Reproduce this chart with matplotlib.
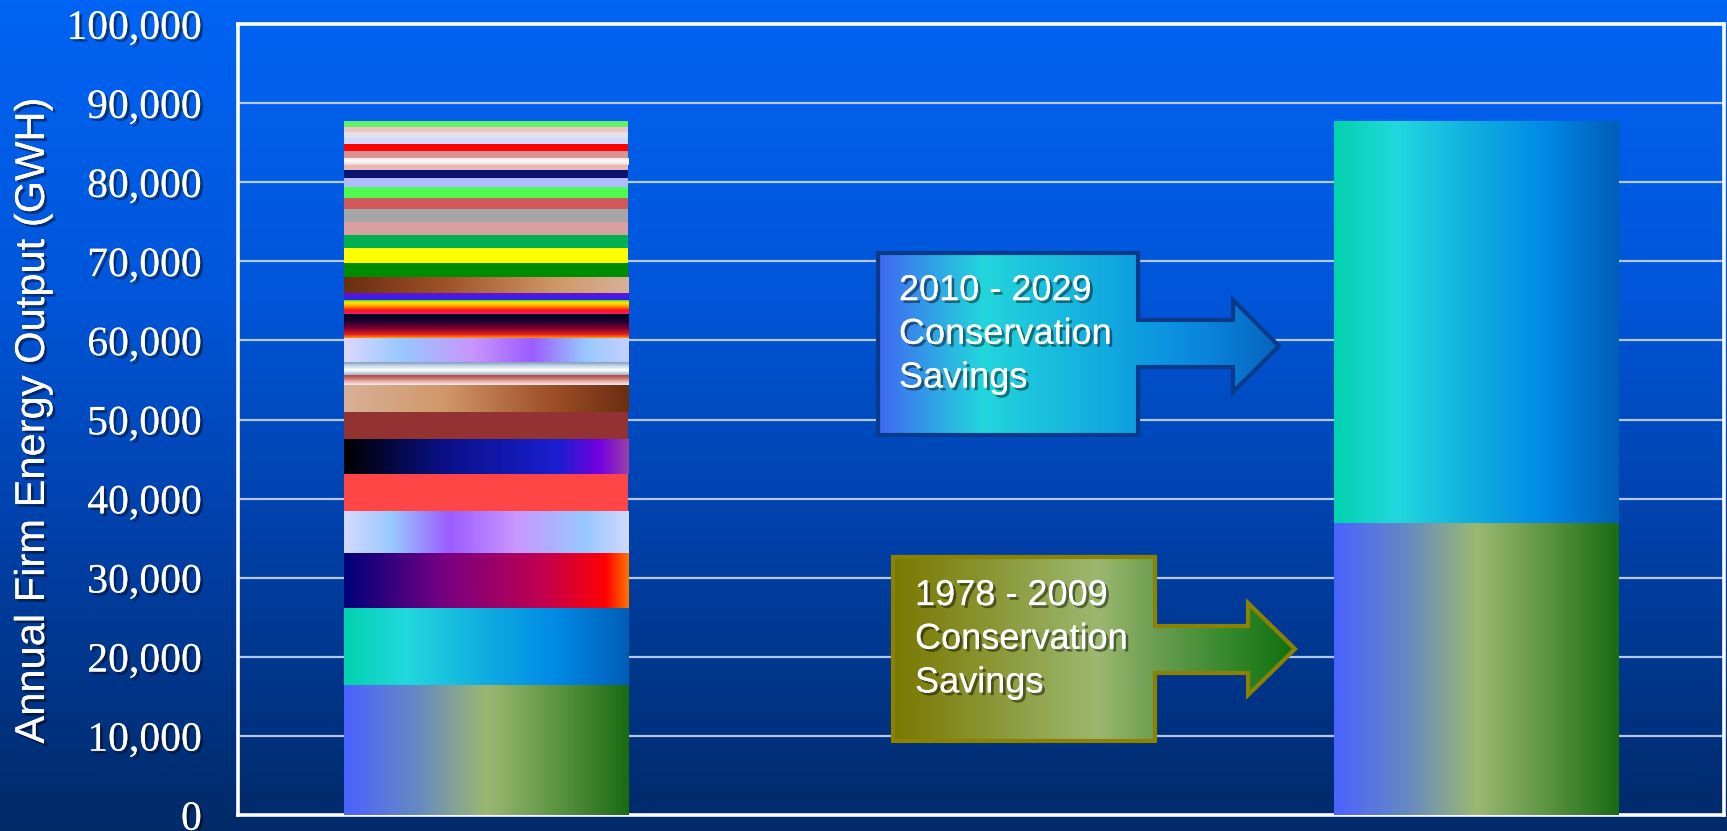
import numpy as np
import matplotlib
matplotlib.use("Agg")
import matplotlib.pyplot as plt
from matplotlib.colors import LinearSegmentedColormap
from matplotlib.patches import Polygon
from matplotlib import patheffects, font_manager

# firm energy from each resource, stacked bottom to top (GWh)
left_segments = [16400, 9800, 6900, 5300, 4700, 4400, 3400, 3500, 1200, 1700,
                 3000, 3000, 1800, 900, 2000, 1800, 1900, 1600, 1700, 1600,
                 1400, 1400, 1100, 1000, 700, 900, 800, 900, 800, 700, 700, 700]
# 1978-2009 savings, 2010-2029 savings (GWh)
right_segments = [36900, 50800]
bar_positions = [0, 1]
y_ticks = np.arange(0, 100001, 10000)
y_label = "Annual Firm Energy Output (GWH)"
upper_note = "2010 - 2029\nConservation\nSavings"
lower_note = "1978 - 2009\nConservation\nSavings"

# fills: plain colour, or ("h"/"v", colour stops) for a gradient
GREEN = ("h", [(0, "#4a62ff"), (0.25, "#6688c4"), (0.5, "#9cb872"), (0.75, "#5c9440"), (1, "#186c12")])
TEAL = ("h", [(0, "#02d2ae"), (0.22, "#22d8de"), (0.5, "#10ace0"), (0.75, "#0088e6"), (1, "#005eb6")])
left_fills = [
    GREEN,
    TEAL,
    ("h", [(0, "#00007a"), (0.35, "#760082"), (0.7, "#c20050"), (0.92, "#ff0000"), (1, "#ff7400")]),
    ("h", [(0, "#d4d8ff"), (0.17, "#98c8ff"), (0.37, "#9b5cff"), (0.6, "#c896ff"), (0.85, "#98c8ff"), (1, "#d0d8ff")]),
    "#ff4646",
    ("h", [(0, "#000000"), (0.35, "#0a1088"), (0.75, "#1a1ed0"), (0.9, "#7400e0"), (1, "#9a40a8")]),
    "#933232",
    ("h", [(0, "#d8b098"), (0.35, "#d09868"), (0.72, "#a05028"), (1, "#6a2e10")]),
    ("v", [(0, "#f6eeee"), (0.35, "#e8b4b0"), (0.7, "#c86a66"), (1, "#b04848")]),
    ("v", [(0, "#9ab0c8"), (0.35, "#ffffff"), (0.65, "#c8d8e8"), (1, "#6e8eb0")]),
    ("h", [(0, "#dcd8ff"), (0.2, "#98c8ff"), (0.45, "#c896ff"), (0.66, "#9b5cff"), (0.85, "#98c8ff"), (1, "#c4d0ff")]),
    ("v", [(0, "#ff9a00"), (0.15, "#e82020"), (0.4, "#800030"), (0.7, "#200030"), (1, "#000020")]),
    ("v", [(0, "#f02080"), (0.25, "#ff1010"), (0.5, "#ff9000"), (0.75, "#ffee00"), (1, "#30c030")]),
    ("v", [(0, "#2424f0"), (1, "#7010d0")]),
    ("h", [(0, "#6a2e10"), (0.35, "#a05028"), (0.75, "#d09868"), (1, "#d8b098")]),
    "#008c00",
    "#ffff00",
    "#00b050",
    "#d8a0a0",
    "#a6a6a6",
    "#d05a5a",
    "#50fa50",
    "#b0bcff",
    "#0a1470",
    "#e8b8b4",
    ("v", [(0, "#f0d0d0"), (0.5, "#ffffff"), (1, "#f0dcdc")]),
    "#da9494",
    "#ff0000",
    "#d0d8ff",
    "#e2e2e6",
    "#eec4c8",
    "#64f064",
]
right_fills = [GREEN, TEAL]

bar_width = 0.287


def ramp_cmap(stops):
    return LinearSegmentedColormap.from_list("ramp", stops)


def paint(ax, rect, fill):
    if isinstance(fill, str):
        rect.set_facecolor(fill)
        return
    direction, stops = fill
    ramp = np.linspace(0, 1, 256)
    img = ramp[None, :] if direction == "h" else ramp[:, None]
    x, y = rect.get_x(), rect.get_y()
    w, h = rect.get_width(), rect.get_height()
    rect.set_facecolor("none")
    im = ax.imshow(img, cmap=ramp_cmap(stops), extent=(x, x + w, y, y + h),
                   origin="lower", aspect="auto", interpolation="bilinear",
                   zorder=rect.get_zorder())
    im.set_clip_path(rect)


def stacked_bar(ax, pos, heights, fills):
    bottoms = np.concatenate([[0], np.cumsum(heights)[:-1]])
    bars = ax.bar([pos] * len(heights), heights, bottom=bottoms, width=bar_width,
                  linewidth=0, zorder=3)
    for rect, fill in zip(bars, fills):
        paint(ax, rect, fill)


def callout(ax, box, shaft, head, stops, edge):
    x0, x1, y0, y1 = box
    s0, s1 = shaft
    hx, h0, h1, tip = head
    ym = (h0 + h1) / 2
    verts = [(x0, y0), (x1, y0), (x1, s0), (hx, s0), (hx, h0), (tip, ym),
             (hx, h1), (hx, s1), (x1, s1), (x1, y1), (x0, y1)]
    outline = Polygon(verts, closed=True, transform=ax.transAxes, facecolor="none",
                      edgecolor=edge, linewidth=3, joinstyle="miter", zorder=6)
    ax.add_patch(outline)
    im = ax.imshow(np.linspace(0, 1, 256)[None, :], cmap=ramp_cmap(stops),
                   extent=(x0, tip, y0, y1), transform=ax.transAxes,
                   aspect="auto", interpolation="bilinear", zorder=5)
    im.set_clip_path(outline)


fig = plt.figure(figsize=(17.27, 8.31), dpi=100)

# blue backdrop, bright at the top fading to navy
bg = fig.add_axes([0, 0, 1, 1], zorder=-1)
bg.imshow(np.linspace(0, 1, 256)[:, None],
          cmap=ramp_cmap([(0, "#0064f4"), (0.35, "#0056da"), (0.65, "#0040a8"), (1, "#002a68")]),
          aspect="auto", extent=(0, 1, 0, 1), origin="upper")
bg.set_axis_off()

ax = fig.add_axes([238 / 1727, 16 / 831, 1486 / 1727, 791 / 831])
ax.set_facecolor("none")

stacked_bar(ax, bar_positions[0], left_segments, left_fills)
stacked_bar(ax, bar_positions[1], right_segments, right_fills)

callout(ax, (0.4307, 0.6057, 0.4804, 0.7105), (0.5664, 0.6258), (0.6696, 0.5348, 0.6511, 0.7005),
        [(0, "#4068f2"), (0.26, "#22d6dc"), (0.65, "#0e9ee0"), (0.82, "#0a84dc"), (1, "#0664bc")],
        "#0a3a8a")
callout(ax, (0.4408, 0.6171, 0.0936, 0.3262), (0.1795, 0.2389), (0.6797, 0.1517, 0.2680, 0.7113),
        [(0, "#7a7800"), (0.51, "#9cb870"), (0.65, "#6c9e52"), (0.82, "#3a8a30"), (1, "#107010")],
        "#8a8200")

shadow = [patheffects.withSimplePatchShadow(offset=(2, -2), shadow_rgbFace="black", alpha=0.45),
          patheffects.Normal()]
note_style = dict(transform=ax.transAxes, color="white", family="Liberation Sans",
                  fontsize=26, ha="left", va="top", linespacing=1.32, zorder=7,
                  path_effects=shadow)
ax.text(0.4448, 0.685, upper_note, **note_style)
ax.text(0.4556, 0.2995, lower_note, **note_style)

ax.set_xlim(-0.25, 1.25)
ax.set_ylim(0, 100000)
ax.set_xticks([])
ax.set_yticks(y_ticks)
ax.set_yticklabels([f"{v:,}" for v in y_ticks], family="Liberation Serif",
                   fontsize=30, color="white")
for lbl in ax.get_yticklabels():
    lbl.set_path_effects(shadow)
ax.tick_params(axis="y", length=0, pad=26)
ax.grid(axis="y", color="#c8d8f8", linewidth=1.6, alpha=0.9)
ax.set_axisbelow(True)
for side in ax.spines.values():
    side.set_color("white")
    side.set_linewidth(2.6)

names = {f.name for f in font_manager.fontManager.ttflist}
if "Liberation Sans Narrow" in names:
    label_font, label_size = "Liberation Sans Narrow", 36
else:
    label_font, label_size = "Liberation Sans", 30
fig.text(33 / 1727, 1 - 421 / 831, y_label, rotation=90, ha="center", va="center",
         color="white", family=label_font, fontsize=label_size, path_effects=shadow)

fig.savefig("out.png", dpi=100)
